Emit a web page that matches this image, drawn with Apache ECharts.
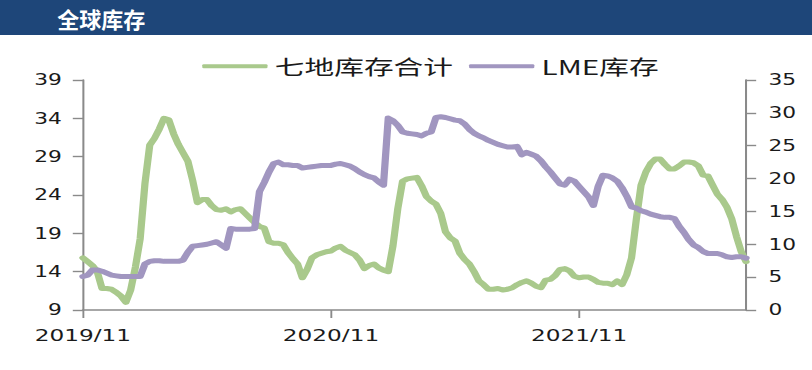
<!DOCTYPE html>
<html><head><meta charset="utf-8">
<script src="https://cdn.jsdelivr.net/npm/echarts@6/dist/echarts.min.js"></script>
<style>
html,body{margin:0;padding:0;background:#fff;overflow:hidden;}
#wrap{width:812px;height:370px;overflow:hidden;position:relative;}
#chart{width:560px;height:370px;transform:scaleX(1.45);transform-origin:0 0;}
</style></head><body>
<div id="wrap"><div id="chart"></div></div>
<script>
const SX = 1.45;
const titleText = '全球库存';
const seriesNames = ['七地库存合计', 'LME库存'];
const dates = [
'2019-11-04','2019-11-11','2019-11-18','2019-11-25','2019-12-02','2019-12-09','2019-12-16','2019-12-23','2019-12-30',
'2020-01-06','2020-01-13','2020-01-20','2020-01-27','2020-02-03','2020-02-10','2020-02-17','2020-02-24',
'2020-03-02','2020-03-09','2020-03-16','2020-03-23','2020-03-30','2020-04-06','2020-04-13','2020-04-20','2020-04-27',
'2020-05-04','2020-05-11','2020-05-18','2020-05-25','2020-06-01','2020-06-08','2020-06-15','2020-06-22','2020-06-29',
'2020-07-06','2020-07-13','2020-07-20','2020-07-27','2020-08-03','2020-08-10','2020-08-17','2020-08-24','2020-08-31',
'2020-09-07','2020-09-14','2020-09-21','2020-09-28','2020-10-05','2020-10-12','2020-10-19','2020-10-26',
'2020-11-02','2020-11-09','2020-11-16','2020-11-23','2020-11-30','2020-12-07','2020-12-14','2020-12-21','2020-12-28',
'2021-01-04','2021-01-11','2021-01-18','2021-01-25','2021-02-01','2021-02-08','2021-02-15','2021-02-22',
'2021-03-01','2021-03-08','2021-03-15','2021-03-22','2021-03-29','2021-04-05','2021-04-12','2021-04-19','2021-04-26',
'2021-05-03','2021-05-10','2021-05-17','2021-05-24','2021-05-31','2021-06-07','2021-06-14','2021-06-21','2021-06-28',
'2021-07-05','2021-07-12','2021-07-19','2021-07-26','2021-08-02','2021-08-09','2021-08-16','2021-08-23','2021-08-30',
'2021-09-06','2021-09-13','2021-09-20','2021-09-27','2021-10-04','2021-10-11','2021-10-18','2021-10-25',
'2021-11-01','2021-11-08','2021-11-15','2021-11-22','2021-11-29','2021-12-06','2021-12-13','2021-12-20','2021-12-27',
'2022-01-03','2022-01-10','2022-01-17','2022-01-24','2022-01-31','2022-02-07','2022-02-14','2022-02-21','2022-02-28',
'2022-03-07','2022-03-14','2022-03-21','2022-03-28','2022-04-04','2022-04-11','2022-04-18','2022-04-25',
'2022-05-02','2022-05-09','2022-05-16','2022-05-23','2022-05-30','2022-06-06','2022-06-13','2022-06-20','2022-06-27',
'2022-07-04'
];
const sevenPlaces = [
15.8,15.3,14.8,14.0,11.8,11.8,11.7,11.3,10.8,10.0,
11.6,14.6,18.3,25.5,30.5,31.4,32.6,34.0,33.8,32.0,
30.6,29.5,28.4,25.9,23.0,23.4,23.4,22.6,22.1,22.0,
22.2,21.8,22.1,22.2,21.6,21.0,20.4,19.9,19.7,17.9,
17.7,17.7,17.5,16.5,15.7,15.0,13.2,14.3,15.8,16.2,
16.4,16.6,16.7,17.1,17.3,16.8,16.5,16.2,15.5,14.4,
14.8,15.0,14.5,14.2,14.0,17.4,22.2,25.8,26.1,26.2,
26.3,25.2,23.8,23.2,22.8,21.6,19.2,18.4,18.0,16.4,
15.6,15.0,14.0,12.8,12.3,11.7,11.7,11.8,11.6,11.7,
11.9,12.3,12.6,12.8,12.5,12.1,11.9,12.9,13.0,13.5,
14.3,14.4,14.1,13.4,13.2,13.3,13.3,13.0,12.6,12.5,
12.5,12.3,12.8,12.3,13.6,15.8,20.8,25.3,27.0,28.1,
28.7,28.7,28.0,27.4,27.4,27.8,28.3,28.3,28.2,27.8,
26.6,26.5,25.3,24.1,23.4,22.4,20.9,18.6,16.6,15.3
];
const lme = [
5.1,5.3,6.1,6.1,5.9,5.6,5.3,5.2,5.1,5.1,
5.1,5.1,5.1,7.0,7.4,7.5,7.5,7.4,7.4,7.4,
7.4,7.6,8.8,9.7,9.8,9.9,10.0,10.2,10.4,9.9,
9.4,12.4,12.3,12.3,12.3,12.3,12.4,18.0,19.4,21.0,
22.3,22.5,22.1,22.1,22.0,22.0,21.6,21.7,21.8,21.9,
22.0,22.0,22.0,22.2,22.3,22.1,21.9,21.5,21.0,20.6,
20.3,20.1,19.5,19.0,29.2,28.8,28.1,27.1,26.9,26.8,
26.7,26.5,26.9,27.1,29.3,29.4,29.3,29.1,28.9,28.8,
28.3,27.5,26.9,26.5,26.2,25.8,25.5,25.2,25.0,24.8,
24.8,24.9,23.6,24.0,23.7,23.4,22.7,21.8,21.0,20.1,
19.2,19.0,19.9,19.6,18.8,18.0,17.2,15.9,18.8,20.5,
20.4,20.1,19.6,18.6,17.3,15.7,15.5,15.1,14.9,14.6,
14.4,14.2,14.1,14.1,13.9,12.7,11.8,10.7,9.9,9.5,
8.9,8.6,8.6,8.6,8.4,8.1,8.0,8.1,8.1,7.9
];
const xTickDates = ['2019-11-04', '2020-11-02', '2021-11-01'];
const xTickLabels = ['2019/11', '2020/11', '2021/11'];
const leftTicks = [9, 14, 19, 24, 29, 34, 39];
const rightTicks = [0, 5, 10, 15, 20, 25, 30, 35];

const colors = ['#a9c98c', '#a196c0'];
const axisColor = '#8a8a8a';
const txtColor = '#1a1a1a';
const isTick = (idx, val) => xTickDates.indexOf(val) >= 0;

const chart = echarts.init(document.getElementById('chart'), null, {renderer: 'svg'});
chart.setOption({
  animation: false,
  backgroundColor: '#ffffff',
  graphic: [
    {type: 'rect', x: 0, y: 0, shape: {x: 0, y: 0, width: 560, height: 35}, style: {fill: '#1e4679'}, silent: true},
    {type: 'text', x: 39.5, y: 18, scaleX: 1 / SX, silent: true,
     style: {text: titleText, fill: '#ffffff', font: 'bold 22px "Noto Sans CJK SC"', textAlign: 'left', textVerticalAlign: 'middle'}}
  ],
  legend: {
    left: 134.5, top: 51,
    data: seriesNames,
    icon: 'roundRect', itemWidth: 45, itemHeight: 4, itemGap: 11,
    textStyle: {fontFamily: '"Noto Sans CJK SC"', fontSize: 20.5, color: txtColor}
  },
  grid: {left: 57.2, right: 45.5, top: 80, bottom: 60, containLabel: false},
  xAxis: {
    type: 'category', data: dates, boundaryGap: false,
    axisLine: {show: true, lineStyle: {color: axisColor, width: 1.6}},
    axisTick: {show: true, interval: isTick, length: 8, lineStyle: {color: axisColor, width: 1.3}},
    axisLabel: {interval: isTick, margin: 18, fontFamily: 'DejaVu Sans', fontSize: 16, color: txtColor,
      formatter: v => { const i = xTickDates.indexOf(v); return i >= 0 ? xTickLabels[i] : ''; }},
    splitLine: {show: false}
  },
  yAxis: [
    {type: 'value', min: leftTicks[0], max: leftTicks[leftTicks.length - 1], interval: leftTicks[1] - leftTicks[0],
     axisLine: {show: true, lineStyle: {color: axisColor, width: 1.4}},
     axisTick: {show: true, length: 7, lineStyle: {color: axisColor, width: 1.4}},
     axisLabel: {margin: 14.5, fontFamily: 'DejaVu Sans', fontSize: 15, color: txtColor},
     splitLine: {show: false}},
    {type: 'value', min: rightTicks[0], max: rightTicks[rightTicks.length - 1], interval: rightTicks[1] - rightTicks[0],
     position: 'right',
     axisLine: {show: true, lineStyle: {color: axisColor, width: 1.4}},
     axisTick: {show: true, length: 7, lineStyle: {color: axisColor, width: 1.4}},
     axisLabel: {margin: 15.5, fontFamily: 'DejaVu Sans', fontSize: 15, color: txtColor},
     splitLine: {show: false}}
  ],
  series: [
    {name: seriesNames[0], type: 'line', yAxisIndex: 0, data: sevenPlaces, showSymbol: false, symbol: 'none',
     itemStyle: {color: colors[0]}, lineStyle: {color: colors[0], width: 5, join: 'round', cap: 'round'}},
    {name: seriesNames[1], type: 'line', yAxisIndex: 1, data: lme, showSymbol: false, symbol: 'none',
     itemStyle: {color: colors[1]}, lineStyle: {color: colors[1], width: 5, join: 'round', cap: 'round'}}
  ]
});
</script>
</body></html>
